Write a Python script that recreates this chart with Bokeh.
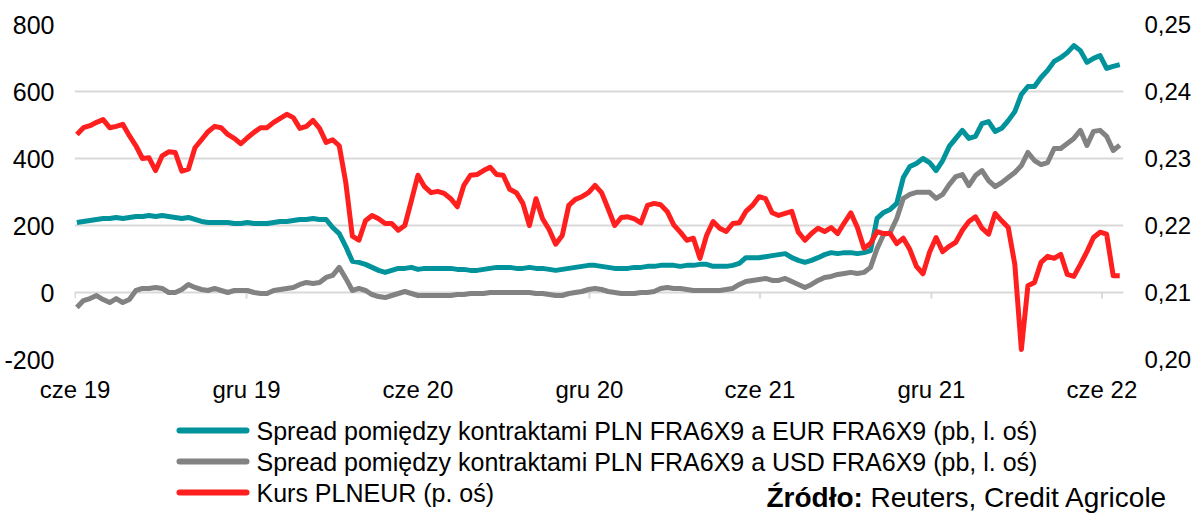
import pandas as pd
from bokeh.plotting import figure
from bokeh.layouts import column, row
from bokeh.models import Range1d, LinearAxis, FixedTicker, CustomJSTickFormatter
from bokeh.core.properties import value
from bokeh.embed import file_html
from bokeh.resources import INLINE

# Weekly observations
dates = pd.date_range("2019-06-03", periods=160, freq="7D")

# Spread PLN FRA6X9 - EUR FRA6X9 (bp, left axis)
eur_spread = [
    209, 212, 215, 218, 221, 221, 224, 221, 224, 227,
    227, 230, 227, 230, 227, 224, 221, 224, 218, 212,
    209, 209, 209, 209, 206, 206, 209, 206, 206, 206,
    209, 212, 212, 215, 218, 218, 221, 218, 218, 194,
    176, 137, 93, 90, 84, 75, 66, 60, 66, 72,
    72, 75, 69, 72, 72, 72, 72, 72, 69, 69,
    66, 66, 69, 72, 75, 75, 75, 72, 72, 75,
    72, 72, 69, 66, 69, 72, 75, 78, 81, 81,
    78, 75, 72, 72, 72, 75, 75, 78, 78, 81,
    81, 81, 78, 81, 81, 84, 84, 78, 78, 78,
    81, 87, 104, 104, 104, 107, 110, 113, 116, 104,
    96, 90, 96, 104, 113, 119, 116, 119, 119, 116,
    119, 125, 221, 239, 248, 266, 343, 376, 385, 400,
    388, 364, 394, 436, 460, 484, 460, 466, 504, 510,
    481, 490, 513, 540, 591, 615, 615, 642, 663, 690,
    701, 716, 737, 722, 687, 699, 707, 669, 675, 680,
]

# Spread PLN FRA6X9 - USD FRA6X9 (bp, left axis)
usd_spread = [
    -45, -24, -18, -9, -21, -30, -18, -30, -21, 6,
    12, 12, 15, 12, 0, 0, 9, 24, 15, 9,
    6, 12, 6, 0, 6, 6, 6, 0, -3, -3,
    6, 9, 12, 15, 24, 30, 27, 30, 45, 51,
    75, 42, 6, 12, 6, -6, -12, -15, -9, -3,
    3, -3, -9, -9, -9, -9, -9, -9, -6, -6,
    -3, -3, -3, 0, 0, 0, 0, 0, 0, 0,
    -3, -3, -6, -9, -9, -3, 0, 3, 9, 12,
    9, 3, 0, -3, -3, -3, 0, 0, 3, 12,
    15, 12, 12, 9, 6, 6, 6, 6, 6, 9,
    12, 24, 33, 36, 39, 42, 36, 36, 42, 33,
    24, 15, 24, 36, 45, 48, 54, 57, 60, 57,
    60, 75, 131, 173, 179, 221, 281, 293, 299, 299,
    299, 281, 293, 322, 346, 352, 319, 349, 364, 334,
    316, 328, 343, 358, 379, 418, 394, 382, 388, 430,
    430, 445, 460, 484, 439, 481, 484, 466, 424, 440,
]

# PLNEUR exchange rate (right axis)
plneur = [
    0.2336, 0.2346, 0.2349, 0.2354, 0.2358, 0.2346, 0.2348, 0.2351, 0.2334, 0.2319,
    0.2300, 0.2301, 0.2282, 0.2304, 0.2310, 0.2309, 0.2281, 0.2284, 0.2316, 0.2328,
    0.2340, 0.2348, 0.2346, 0.2336, 0.2330, 0.2322, 0.2331, 0.2339, 0.2346, 0.2346,
    0.2354, 0.2360, 0.2366, 0.2361, 0.2345, 0.2348, 0.2357, 0.2345, 0.2324, 0.2328,
    0.2319, 0.2264, 0.2184, 0.2178, 0.2207, 0.2215, 0.2210, 0.2203, 0.2203, 0.2193,
    0.2200, 0.2237, 0.2275, 0.2258, 0.2249, 0.2251, 0.2248, 0.2240, 0.2228, 0.2260,
    0.2275, 0.2276, 0.2282, 0.2287, 0.2276, 0.2275, 0.2254, 0.2249, 0.2233, 0.2200,
    0.2240, 0.2210, 0.2194, 0.2172, 0.2185, 0.2230, 0.2239, 0.2243, 0.2249, 0.2260,
    0.2249, 0.2225, 0.2200, 0.2212, 0.2213, 0.2210, 0.2204, 0.2230, 0.2233, 0.2231,
    0.2221, 0.2201, 0.2190, 0.2178, 0.2181, 0.2151, 0.2185, 0.2206, 0.2196, 0.2191,
    0.2203, 0.2204, 0.2221, 0.2230, 0.2243, 0.2240, 0.2219, 0.2215, 0.2218, 0.2221,
    0.2190, 0.2178, 0.2188, 0.2196, 0.2191, 0.2197, 0.2188, 0.2204, 0.2219, 0.2197,
    0.2166, 0.2173, 0.2191, 0.2188, 0.2188, 0.2173, 0.2181, 0.2164, 0.2139, 0.2128,
    0.2160, 0.2182, 0.2161, 0.2169, 0.2175, 0.2193, 0.2206, 0.2213, 0.2196, 0.2187,
    0.2218, 0.2207, 0.2197, 0.2142, 0.2015, 0.2110, 0.2115, 0.2145, 0.2154, 0.2151,
    0.2157, 0.2127, 0.2124, 0.2142, 0.2161, 0.2182, 0.2190, 0.2187, 0.2125, 0.2125,
]

tick_dates = ["2019-06-01", "2019-12-01", "2020-06-01", "2020-12-01",
              "2021-06-01", "2021-12-01", "2022-06-01"]
tick_labels = ["cze 19", "gru 19", "cze 20", "gru 20", "cze 21", "gru 21", "cze 22"]
left_ticks = [-200, 0, 200, 400, 600, 800]
right_ticks = [0.20, 0.21, 0.22, 0.23, 0.24, 0.25]

legend_labels = [
    "Spread pomiędzy kontraktami PLN FRA6X9 a EUR FRA6X9 (pb, l. oś)",
    "Spread pomiędzy kontraktami PLN FRA6X9 a USD FRA6X9 (pb, l. oś)",
    "Kurs PLNEUR (p. oś)",
]
source_head = "Źródło:"
source_body = "Reuters, Credit Agricole"

TEAL = "#00939b"
GREY = "#828282"
RED = "#ff1f1f"
GRID = "#d9d9d9"
FONT = "Liberation Sans"

tick_ts = [pd.Timestamp(d) for d in tick_dates]
tick_ms = [int(t.value // 10**6) for t in tick_ts]
label_map = {str(ms): lab for ms, lab in zip(tick_ms, tick_labels)}

MAIN_H = 410
p = figure(
    width=1200, height=MAIN_H,
    x_axis_type="datetime",
    x_range=Range1d(pd.Timestamp("2019-05-31 11:00").to_pydatetime(),
                    pd.Timestamp("2022-06-24").to_pydatetime()),
    y_range=Range1d(-200, 800),
    output_backend="svg", toolbar_location=None,
    min_border_left=74, min_border_right=77, min_border_top=24,
    min_border_bottom=MAIN_H - 359,
    outline_line_color=None, background_fill_color="white", border_fill_color="white",
)
p.extra_y_ranges = {"right": Range1d(0.20, 0.25)}

# horizontal gridlines
p.xgrid.visible = False
p.ygrid.ticker = FixedTicker(ticks=left_ticks)
p.ygrid.grid_line_color = GRID
p.ygrid.grid_line_width = 2

def style_axis(ax, size, standoff):
    ax.axis_line_color = None
    ax.major_tick_line_color = None
    ax.minor_tick_line_color = None
    ax.major_tick_out = 0
    ax.major_tick_in = 0
    ax.major_label_text_font = FONT
    ax.major_label_text_font_size = size
    ax.major_label_text_color = "#000000"
    ax.major_label_standoff = standoff

# left axis (plain hyphen for negatives)
p.yaxis.ticker = FixedTicker(ticks=left_ticks)
p.yaxis.formatter = CustomJSTickFormatter(code="return String(Math.round(tick));")
style_axis(p.yaxis[0], "25px", 20)

# right axis (exchange rate, decimal comma)
raxis = LinearAxis(y_range_name="right", ticker=FixedTicker(ticks=right_ticks),
                   formatter=CustomJSTickFormatter(code="return tick.toFixed(2).replace('.', ',');"))
style_axis(raxis, "24px", 21)
p.add_layout(raxis, "right")

# bottom axis with month labels
p.xaxis.ticker = FixedTicker(ticks=tick_ms)
p.xaxis.formatter = CustomJSTickFormatter(args=dict(labels=label_map),
                                          code="return labels[String(tick)] || '';")
style_axis(p.xaxis[0], "24px", 16)

# small tick marks hanging from the zero line
p.segment(x0=tick_ts, y0=[0] * len(tick_ts), x1=tick_ts, y1=[-18] * len(tick_ts),
          line_color=GRID, line_width=2)

p.line(dates, eur_spread, line_color=TEAL, line_width=5, line_join="round")
p.line(dates, usd_spread, line_color=GREY, line_width=5, line_join="round")
p.line(dates, plneur, line_color=RED, line_width=5, line_join="round", y_range_name="right")

# legend and source strip (pixel coordinates, y downwards)
LEG_H = 524 - MAIN_H
lg = figure(
    width=1200, height=LEG_H,
    x_range=Range1d(0, 1200), y_range=Range1d(LEG_H, 0),
    x_axis_location=None, y_axis_location=None,
    output_backend="svg", toolbar_location=None,
    min_border=0, outline_line_color=None,
    background_fill_color="white", border_fill_color="white",
)
lg.grid.visible = False
rows = [430 - MAIN_H, 461 - MAIN_H, 492 - MAIN_H]
colors = [TEAL, GREY, RED]
lg.segment(x0=[179] * 3, y0=rows, x1=[246] * 3, y1=rows, line_color=colors,
           line_width=6, line_cap="round")
lg.text(x=[256] * 3, y=rows, text=legend_labels, text_font=value(FONT),
        text_font_size="25px", text_baseline="middle", text_align="left", text_color="#000000")
lg.text(x=[766], y=[497 - MAIN_H], text=[source_head], text_font=value(FONT),
        text_font_style="bold", text_font_size="28px", text_baseline="middle",
        text_align="left", text_color="#000000")
lg.text(x=[870], y=[497 - MAIN_H], text=[source_body], text_font=value(FONT),
        text_font_size="28px", text_baseline="middle", text_align="left", text_color="#000000")

# nest the strip in its own row so its frame is not aligned with the chart frame
layout = column(p, row(lg), spacing=0)
open("out.html", "w").write(file_html(layout, INLINE))
